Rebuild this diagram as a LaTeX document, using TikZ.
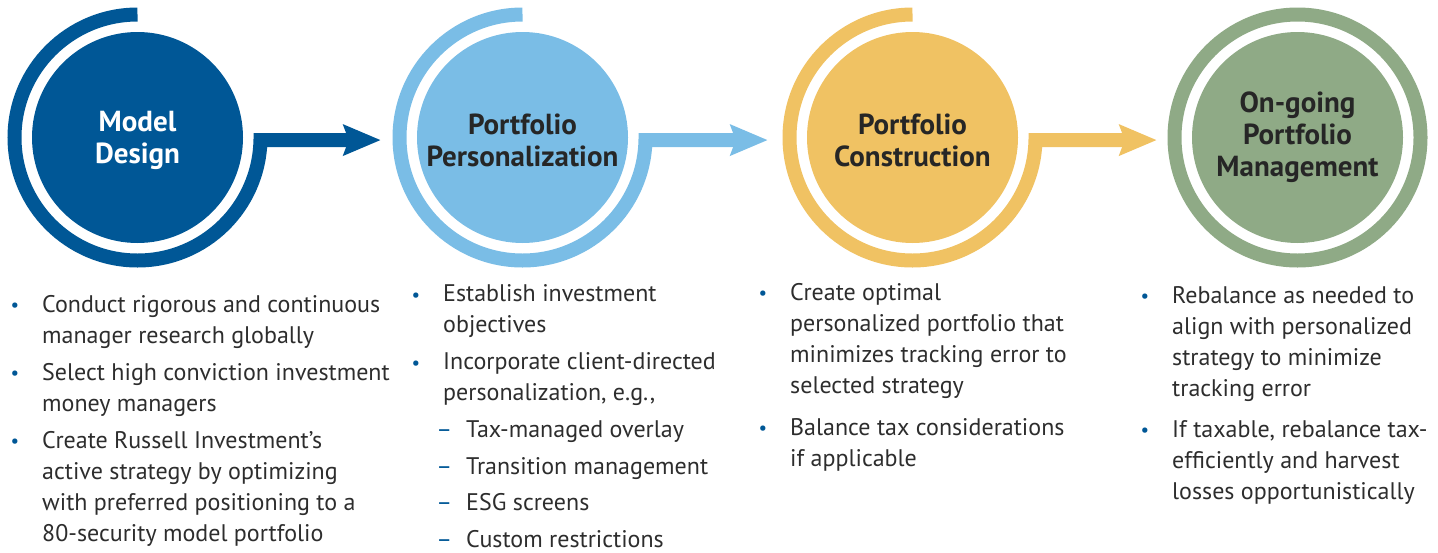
\documentclass[tikz,border=0pt]{standalone}
\usepackage{fontspec}
\setmainfont{PT Sans}
\usetikzlibrary{arrows.meta,positioning}
\definecolor{mdblue}{RGB}{0,87,150}
\definecolor{ppblue}{RGB}{122,189,230}
\definecolor{pcyellow}{RGB}{240,194,99}
\definecolor{omgreen}{RGB}{143,170,134}
\definecolor{bodygray}{RGB}{45,45,45}
\newcommand{\bul}{\llap{\textcolor{mdblue}{\raisebox{0.5pt}{\fontsize{19}{19}\selectfont\textbullet}}\hspace{23pt}}}
\newcommand{\subdash}{\hspace*{23pt}\llap{\textcolor{mdblue}{--}\hspace{14pt}}}

\begin{document}
\begin{tikzpicture}[x=1pt,y=1pt]
%circles are 211pt wide, rings sit at radius 123
\tikzstyle{disc}=[circle, minimum size=211pt, inner sep=0pt, align=center, font=\bfseries\fontsize{29}{32}\selectfont, text=black!85]
\tikzstyle{ring}=[line width=14pt]
\tikzstyle{flow}=[ring, -{Stealth[length=37pt,width=30pt,inset=5pt]}]
%lists hang from the baseline of their last line
\tikzstyle{items}=[anchor=base west, align=left, inner sep=0pt, text=bodygray, font=\fontsize{24}{31}\selectfont]
\useasboundingbox (0,0) rectangle (1438,-552);
\node[disc, fill=mdblue, text=white](md) at (137.5,-137.5) {\\[-6pt]Model\\Design};
\node[disc, fill=ppblue](pp) at (522.5,-137.5) {\\[-6pt]Portfolio\\Personalization};
\node[disc, fill=pcyellow](pc) at (912.5,-137.5) {\\[-6pt]Portfolio\\Construction};
\node[disc, fill=omgreen](om) at (1297.5,-137.5) {On-going\\Portfolio\\Management};
\draw[flow, mdblue, shorten >=36pt] (md.center) ++(0,123) arc[start angle=90, end angle=358.8, radius=123] coordinate(md out) -- (md out -| pp.west);
\draw[flow, ppblue, shorten >=39pt] (pp.center) ++(0,123) arc[start angle=90, end angle=358.8, radius=123] coordinate(pp out) -- (pp out -| pc.west);
\draw[flow, pcyellow, shorten >=35pt] (pc.center) ++(0,123) arc[start angle=90, end angle=358.8, radius=123] coordinate(pc out) -- (pc out -| om.west);
\draw[ring, omgreen] (om.center) circle[radius=123];
\node[items](md list) at (42,-541) {\bul Conduct rigorous and continuous\\manager research globally\\[6pt]
  \bul Select high conviction investment\\money managers\\[6pt]
  \bul Create Russell Investment’s\\active strategy by optimizing\\with preferred positioning to a\\80-security model portfolio};
\node[items](pp list) at (443,-547) {\bul Establish investment\\objectives\\[6pt]
  \bul Incorporate client-directed\\personalization, e.g.,\\[6pt]
  \subdash Tax-managed overlay\\[5.5pt]
  \subdash Transition management\\[5.5pt]
  \subdash ESG screens\\[5.5pt]
  \subdash Custom restrictions};
\node[items](pc list) at (790,-466) {\bul Create optimal\\personalized portfolio that\\minimizes tracking error to\\selected strategy\\[11pt]
  \bul Balance tax considerations\\if applicable};
\node[items](om list) at (1172,-499) {\bul Rebalance as needed to\\align with personalized\\strategy to minimize\\tracking error\\[10pt]
  \bul If taxable, rebalance tax-\\efficiently and harvest\\losses opportunistically};
\end{tikzpicture}
\end{document}
